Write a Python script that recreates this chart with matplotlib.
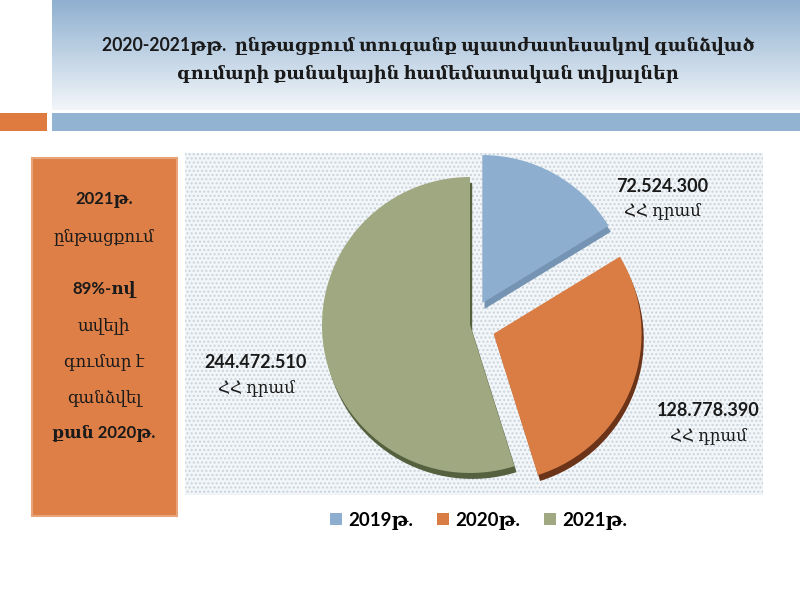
import matplotlib
matplotlib.use("Agg")
import matplotlib.pyplot as plt
import numpy as np
from matplotlib.patches import Rectangle, Patch

# Data
years = ["2019թ.", "2020թ.", "2021թ."]
amounts = [72524300, 128778390, 244472510]
amount_labels = ["72.524.300\nՀՀ դրամ", "128.778.390\nՀՀ դրամ", "244.472.510\nՀՀ դրամ"]
colors = ["#8DAECF", "#D97D45", "#A0A882"]
shadow_colors = ["#7593B3", "#6B3318", "#55603F"]
explode = [0.17, 0.17, 0.0]

title_lines = ["2020-2021թթ.  ընթացքում տուգանք պատժատեսակով գանձված",
               "գումարի քանակային համեմատական տվյալներ"]
side_lines = ["2021թ.", "ընթացքում", "89%-ով", "ավելի", "գումար է", "գանձվել", "քան 2020թ."]
side_y = [200, 237, 290, 327, 362, 398, 433]
side_bold = [True, False, True, False, False, False, True]

FONT = ["Lato", "DejaVu Serif", "DejaVu Sans"]

fig = plt.figure(figsize=(8, 6), dpi=100)
bg = fig.add_axes([0, 0, 1, 1])
bg.set_xlim(0, 800)
bg.set_ylim(600, 0)
bg.axis("off")

# header gradient
grad = np.linspace(0, 1, 100).reshape(-1, 1)
top = np.array([0x8F, 0xB0, 0xD0]) / 255
bot = np.array([0xF2, 0xF6, 0xFA]) / 255
img = top + (bot - top) * grad[..., None]
bg.imshow(img, extent=(52, 800, 110, 0), aspect="auto", zorder=0)
bg.add_patch(Rectangle((52, 113), 748, 18, facecolor="#93B3D3", edgecolor="none"))
bg.add_patch(Rectangle((0, 113), 47, 18, facecolor="#E07B3F", edgecolor="none"))

for i, line in enumerate(title_lines):
    bg.text(428, 46 + i * 28, line, ha="center", va="center", fontsize=12.7,
            fontweight="bold", family=FONT, color="#1a1a1a")

# left orange box
bg.add_patch(Rectangle((32, 158), 145, 358, facecolor="#DD7F47", edgecolor="#E9A57A", linewidth=1.5))
for line, y, b in zip(side_lines, side_y, side_bold):
    bg.text(104, y, line, ha="center", va="center", fontsize=12,
            fontweight="bold" if b else "normal", family=FONT, color="#1a1a1a")

# dotted plot background
bg.add_patch(Rectangle((185, 153), 578, 342, facecolor="#F3F6F8", edgecolor="#C9D3DC",
                       hatch="....", linewidth=0))

# pie
cx, cy, r = 470, 325, 148
half = 200
pax = fig.add_axes([(cx - half) / 800, (600 - cy - half) / 600, 2 * half / 800, 2 * half / 600])
lim = half / r
pax.axis("off")
pax.pie(amounts, explode=explode, colors=shadow_colors, startangle=90, counterclock=False,
        center=(0.015, -0.04), wedgeprops=dict(linewidth=0))
wedges, _ = pax.pie(amounts, explode=explode, colors=colors, startangle=90, counterclock=False,
                    wedgeprops=dict(linewidth=0))
pax.set_xlim(-lim, lim)
pax.set_ylim(-lim, lim)

label_pos = [(662, 198), (708, 423), (256, 375)]
for (x, y), lab in zip(label_pos, amount_labels):
    num, unit = lab.split("\n")
    bg.text(x, y - 12, num, ha="center", va="center", fontsize=13, fontweight="bold",
            family=FONT, color="#1a1a1a")
    bg.text(x, y + 13, unit, ha="center", va="center", fontsize=12, family=FONT, color="#1a1a1a")

handles = [Patch(facecolor=c, edgecolor="none") for c in colors]
leg = fig.legend(handles, years, loc="center", bbox_to_anchor=(0.598, 0.132), ncol=3,
                 frameon=False, handlelength=0.65, handleheight=0.65, handletextpad=0.3,
                 columnspacing=1.3, prop=dict(family=FONT, weight="bold", size=13.5))

fig.savefig("out.png", dpi=100)
